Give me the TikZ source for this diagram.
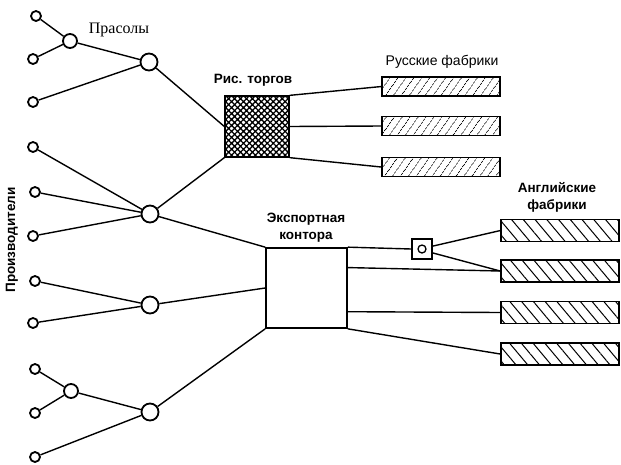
\documentclass[tikz,border=0pt]{standalone}
\usepackage{fontspec}
\setmainfont{Liberation Serif}
\newfontfamily\sansf{Liberation Sans}
\usetikzlibrary{patterns.meta,calc}
\tikzset{
  ln/.style={line width=1.4pt},
  leaf/.style={circle,draw,line width=1.8pt,fill=white,minimum size=10pt,inner sep=0pt},
  mid/.style={circle,draw,line width=1.8pt,fill=white,minimum size=14pt,inner sep=0pt},
  hub/.style={circle,draw,line width=1.8pt,fill=white,minimum size=17pt,inner sep=0pt},
  rusf/.style={draw,line width=1.7pt,minimum width=118pt,minimum height=19pt,inner sep=0pt,
    pattern={Lines[angle=55,distance=6.5pt,line width=0.8pt]}},
  engf/.style={draw,line width=1.7pt,minimum width=118pt,minimum height=22pt,inner sep=0pt,
    pattern={Lines[angle=-50,distance=9pt,line width=1pt]}},
  lbl/.style={font=\sansf\fontsize{14pt}{16pt}\selectfont,align=center,inner sep=0pt},
  blbl/.style={font=\sansf\bfseries\fontsize{13.5pt}{17pt}\selectfont,align=center,inner sep=0pt},
}
\begin{document}
\begin{tikzpicture}[x=1pt,y=-1pt]
\useasboundingbox (0,0) rectangle (621,464);
% leaves
\node[leaf] (l1) at (36,16) {};
\node[leaf] (l2) at (33,59) {};
\node[leaf] (l3) at (33,102) {};
\node[leaf] (l4) at (33,147) {};
\node[leaf] (l5) at (35,192) {};
\node[leaf] (l6) at (33,236) {};
\node[leaf] (l7) at (35,281) {};
\node[leaf] (l8) at (33,323) {};
\node[leaf] (l9) at (35,369) {};
\node[leaf] (l10) at (35,413) {};
\node[leaf] (l11) at (35,457) {};
% intermediate
\node[mid] (p1) at (70,41) {};
\node[mid] (p2) at (71,391) {};
% hubs
\node[hub] (h1) at (149,62) {};
\node[hub] (h2) at (150,214) {};
\node[hub] (h3) at (150,305) {};
\node[hub] (h4) at (150,412) {};
% boxes
\node[draw,line width=1.7pt,minimum width=64pt,minimum height=61pt,inner sep=0pt,
  pattern={Hatch[angle=45,distance=4.2pt,line width=1.3pt]}] (ris) at (257,126.5) {};
\node[draw,line width=1.7pt,fill=white,minimum width=81pt,minimum height=80pt,inner sep=0pt] (exp) at (306.5,288) {};
\node[draw,line width=1.6pt,fill=white,minimum size=20pt,inner sep=0pt] (sb) at (422,249) {};
\node[circle,draw,line width=1.3pt,minimum size=8pt,inner sep=0pt] (sbc) at (sb.center) {};
\node[rusf] (r1) at (441,86.5) {};
\node[rusf] (r2) at (441,126) {};
\node[rusf] (r3) at (441,167) {};
\node[engf] (e1) at (560,230.5) {};
\node[engf] (e2) at (560,271) {};
\node[engf] (e3) at (560,312.5) {};
\node[engf] (e4) at (560,354) {};
% labels
\node[font=\fontsize{16pt}{18pt}\selectfont,inner sep=0pt] (tpr) at (119,30) {Прасолы};
\node[blbl] (tris) at (253,80) {Рис. торгов};
\node[lbl] (trus) at (442,62) {Русские фабрики};
\node[blbl] (texp) at (306,228) {Экспортная\\контора};
\node[blbl] (teng) at (557,197) {Английские\\фабрики};
\node[blbl,rotate=90] (tprod) at (12,240) {Производители};
% connectors
\draw[ln] (l1) -- (p1); \draw[ln] (l2) -- (p1);
\draw[ln] (p1) -- (h1); \draw[ln] (l3) -- (h1);
\draw[ln] (l4) -- (h2); \draw[ln] (l5) -- (h2); \draw[ln] (l6) -- (h2);
\draw[ln] (l7) -- (h3); \draw[ln] (l8) -- (h3);
\draw[ln] (l9) -- (p2); \draw[ln] (l10) -- (p2);
\draw[ln] (p2) -- (h4); \draw[ln] (l11) -- (h4);
\draw[ln] (h1) -- (ris.west);
\draw[ln] (h2) -- (ris.south west);
\draw[ln] (h2) -- (exp.north west);
\draw[ln] (h3) -- (exp.west);
\draw[ln] (h4) -- (exp.south west);
\draw[ln] (ris.north east) -- (r1.west);
\draw[ln] (ris.east) -- (r2.west);
\draw[ln] (ris.south east) -- (r3.west);
\coordinate (x2) at ($(exp.north east)!0.25!(exp.south east)$);
\coordinate (x3) at ($(exp.north east)!0.79!(exp.south east)$);
\draw[ln] (exp.north east) -- (sb.west);
\draw[ln] (sb.15) -- (e1.west);
\draw[ln] (sb.-20) -- (e2.west);
\draw[ln] (x2) -- (e2.west);
\draw[ln] (x3) -- (e3.west);
\draw[ln] (exp.south east) -- (e4.west);
\end{tikzpicture}
\end{document}
